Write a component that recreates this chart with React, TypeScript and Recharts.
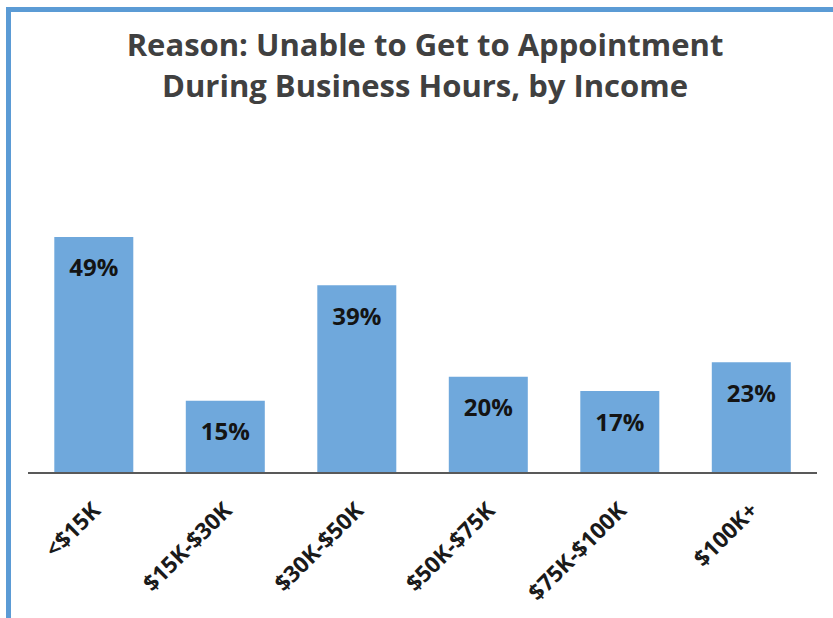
import { BarChart, Bar, XAxis, YAxis, LabelList } from 'recharts';

const incomeGroups = ['<$15K', '$15K-$30K', '$30K-$50K', '$50K-$75K', '$75K-$100K', '$100K+'];
const shares = [49, 15, 39, 20, 17, 23];

const titleLines = ['Reason: Unable to Get to Appointment', 'During Business Hours, by Income'];

const data = incomeGroups.map((group, i) => ({ group, share: shares[i] }));

const FONT = '"Open Sans", "Noto Sans", sans-serif';

function RotatedTick(props: any) {
  const { x, y, payload } = props;
  const tx = x + 8;
  const ty = y + 39;
  return (
    <text
      x={tx}
      y={ty}
      transform={`rotate(-45, ${tx}, ${ty})`}
      textAnchor="end"
      fontFamily={FONT}
      fontWeight={700}
      fontSize={22.5}
      fill="#1a1a1a"
    >
      {payload.value}
    </text>
  );
}

function ValueLabel(props: any) {
  const { x, y, width, value } = props;
  return (
    <text
      x={x + width / 2}
      y={y + 30}
      textAnchor="middle"
      dominantBaseline="central"
      fontFamily={FONT}
      fontWeight={700}
      fontSize={24}
      fill="#141414"
    >
      {value}%
    </text>
  );
}

export default function App() {
  return (
    <div style={{ position: 'fixed', left: 0, top: 0, width: 833, height: 618, overflow: 'hidden', background: '#fff' }}>
      <div
        style={{
          position: 'absolute',
          left: 6,
          top: 7,
          width: 827,
          height: 611,
          boxSizing: 'border-box',
          borderLeft: '5px solid #5B9BD5',
          borderTop: '5px solid #5B9BD5',
        }}
      />
      <div
        style={{
          position: 'absolute',
          left: 17,
          top: 24,
          width: 816,
          textAlign: 'center',
          fontFamily: FONT,
          fontWeight: 700,
          fontSize: 31,
          lineHeight: '41px',
          color: '#404040',
        }}
      >
        {titleLines.map((line) => (
          <div key={line}>{line}</div>
        ))}
      </div>
      <div style={{ position: 'absolute', left: 0, top: 0 }}>
        <BarChart
          width={833}
          height={618}
          data={data}
          margin={{ top: 184, right: 16, bottom: 0, left: 28 }}
          barCategoryGap="20%"
        >
          <XAxis
            dataKey="group"
            axisLine={{ stroke: '#595959', strokeWidth: 2 }}
            tickLine={false}
            tickSize={0}
            tickMargin={0}
            interval={0}
            tick={<RotatedTick />}
            height={145}
          />
          <YAxis hide domain={[0, 60]} />
          <Bar dataKey="share" fill="#6FA8DC" isAnimationActive={false}>
            <LabelList dataKey="share" content={<ValueLabel />} />
          </Bar>
        </BarChart>
      </div>
    </div>
  );
}
